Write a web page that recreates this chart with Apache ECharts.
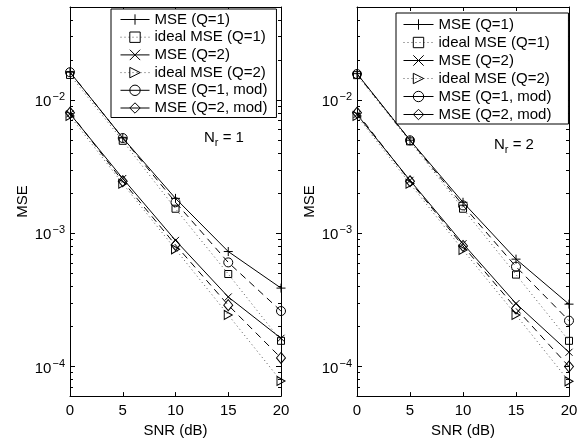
<!DOCTYPE html>
<html><head><meta charset="utf-8">
<script src="https://cdn.jsdelivr.net/npm/echarts@6/dist/echarts.min.js"></script>
<style>html,body{margin:0;padding:0;background:#fff}#c{width:587px;height:443px}</style>
</head><body><div id="c"></div>
<script>
// ---- data ----
const snr = [0, 5, 10, 15, 20];
const seriesNames = ['MSE (Q=1)', 'ideal MSE (Q=1)', 'MSE (Q=2)', 'ideal MSE (Q=2)', 'MSE (Q=1, mod)', 'MSE (Q=2, mod)'];
// N_r = 1
const mseQ1_nr1      = [0.0162, 0.0052, 0.00183, 0.00073, 0.000388];
const idealQ1_nr1    = [0.01545, 0.00495, 0.00153, 0.000495, 0.000156];
const mseQ2_nr1      = [0.0079, 0.00258, 0.000885, 0.000333, 0.000163];
const idealQ2_nr1    = [0.0076, 0.00236, 0.000759, 0.000244, 0.000078];
const mseQ1mod_nr1   = [0.0162, 0.00519, 0.00171, 0.000605, 0.000261];
const mseQ2mod_nr1   = [0.00804, 0.00246, 0.000818, 0.000289, 0.000116];
// N_r = 2
const mseQ1_nr2      = [0.0158, 0.0050, 0.00171, 0.00064, 0.000294];
const idealQ1_nr2    = [0.0154, 0.0049, 0.00153, 0.00049, 0.000156];
const mseQ2_nr2      = [0.0078, 0.0025, 0.000836, 0.000297, 0.000128];
const idealQ2_nr2    = [0.0076, 0.00236, 0.00075, 0.000244, 0.0000775];
const mseQ1mod_nr2   = [0.0157, 0.00499, 0.00162, 0.000562, 0.000221];
const mseQ2mod_nr2   = [0.00804, 0.00246, 0.000804, 0.000273, 0.0001];
// axis ticks
const xTicks = [0, 5, 10, 15, 20];
const yMajor = [1e-4, 1e-3, 1e-2];
const yMinor = [6e-5, 7e-5, 8e-5, 9e-5, 2e-4, 3e-4, 4e-4, 5e-4, 6e-4, 7e-4, 8e-4, 9e-4,
                2e-3, 3e-3, 4e-3, 5e-3, 6e-3, 7e-3, 8e-3, 9e-3, 2e-2, 3e-2, 4e-2, 5e-2];
const yMin = 6e-5, yMax = 5e-2;

// ---- styles ----
const FONT = 'Liberation Sans, Arial, Helvetica, sans-serif';
const PLUS = 'path://M5,0L5,10M0,5L10,5';
const CROSS = 'path://M0,0L10,10M0,10L10,0';
const TRI = 'path://M0,0L10,5L0,10Z';
const styles = [
  {symbol: PLUS, size: 9, type: 'solid', color: '#000', legendType: 'solid'},
  {symbol: 'rect', size: 7, type: [1, 3], color: '#555', legendType: [1, 3]},
  {symbol: CROSS, size: 7, type: 'solid', color: '#000', legendType: 'solid'},
  {symbol: TRI, size: [8, 9], type: [1, 3], color: '#555', legendType: [1, 3]},
  {symbol: 'circle', size: 9, type: [7, 5], color: '#000', legendType: 'solid'},
  {symbol: 'diamond', size: [9, 11], type: [7, 5], color: '#000', legendType: 'solid'}
];
const panels = [
  [mseQ1_nr1, idealQ1_nr1, mseQ2_nr1, idealQ2_nr1, mseQ1mod_nr1, mseQ2mod_nr1],
  [mseQ1_nr2, idealQ1_nr2, mseQ2_nr2, idealQ2_nr2, mseQ1mod_nr2, mseQ2mod_nr2]
];

function expLabel(v) {
  const e = Math.round(Math.log10(v));
  return '{b|10}{s|' + (e < 0 ? '\u2212' : '') + Math.abs(e) + '}';
}

const grids = [
  {left: 70, right: 306, top: 7, bottom: 43},
  {left: 357, right: 18, top: 7, bottom: 43}
];
const xAxes = [], yAxes = [], series = [];
const axisLine = {show: true, lineStyle: {color: '#000', width: 1}};
grids.forEach((g, gi) => {
  xAxes.push({
    gridIndex: gi, type: 'value', min: 0, max: 20, interval: 5, position: 'bottom',
    axisLine, splitLine: {show: false},
    axisTick: {inside: true, length: 4, lineStyle: {color: '#000'}},
    axisLabel: {fontSize: 15, color: '#000', fontFamily: FONT, margin: 7},
    name: 'SNR (dB)', nameLocation: 'middle', nameGap: 26,
    nameTextStyle: {fontSize: 15, color: '#000', fontFamily: FONT}
  });
  xAxes.push({
    gridIndex: gi, type: 'value', min: 0, max: 20, interval: 5, position: 'top',
    axisLine, splitLine: {show: false},
    axisTick: {inside: true, length: 4, lineStyle: {color: '#000'}},
    axisLabel: {show: false}
  });
  const base = {gridIndex: gi, type: 'log', logBase: 10, min: yMin, max: yMax, splitLine: {show: false}, axisLine};
  yAxes.push(Object.assign({}, base, {
    position: 'left',
    axisTick: {inside: true, length: 5, customValues: yMajor, lineStyle: {color: '#000'}},
    axisLabel: {customValues: yMajor, formatter: expLabel, margin: 5, color: '#000',
      rich: {b: {fontSize: 15, fontFamily: FONT, color: '#000', padding: [4, 0, 0, 0]},
             s: {fontSize: 11, fontFamily: FONT, color: '#000', padding: [0, 0, 6, 1]}}},
    name: 'MSE', nameLocation: 'middle', nameGap: 40, nameRotate: 90,
    nameTextStyle: {fontSize: 15, color: '#000', fontFamily: FONT}
  }));
  yAxes.push(Object.assign({}, base, {
    position: 'left', axisLine: {show: false},
    axisTick: {inside: true, length: 3, customValues: yMinor, lineStyle: {color: '#000'}},
    axisLabel: {show: false}
  }));
  yAxes.push(Object.assign({}, base, {
    position: 'right',
    axisTick: {inside: true, length: 5, customValues: yMajor, lineStyle: {color: '#000'}},
    axisLabel: {show: false}
  }));
  yAxes.push(Object.assign({}, base, {
    position: 'right', axisLine: {show: false},
    axisTick: {inside: true, length: 3, customValues: yMinor, lineStyle: {color: '#000'}},
    axisLabel: {show: false}
  }));
  panels[gi].forEach((vals, si) => {
    const st = styles[si];
    series.push({
      type: 'line', name: seriesNames[si],
      xAxisIndex: gi * 2, yAxisIndex: gi * 4,
      data: snr.map((x, i) => [x, vals[i]]),
      symbol: st.symbol, symbolSize: st.size, showAllSymbol: true,
      lineStyle: {color: st.color, width: 1, type: st.type},
      itemStyle: {color: 'rgba(0,0,0,0)', borderColor: '#000', borderWidth: 1},
      emphasis: {disabled: true}, animation: false, z: 2 + si
    });
  });
});

const legendData = seriesNames.map((n, i) => ({name: n, lineStyle: {type: styles[i].legendType, width: 1}}));
const legendCommon = {
  orient: 'vertical', data: legendData, itemHeight: 13,
  backgroundColor: '#fff', borderColor: '#000', borderWidth: 1,
  textStyle: {fontSize: 15, fontFamily: FONT, color: '#000', lineHeight: 15},
  lineStyle: {width: 1}, itemStyle: {borderWidth: 1},
  selectedMode: false
};
const legends = [
  Object.assign({}, legendCommon, {left: 111, top: 9, itemWidth: 29, itemGap: 2.7, padding: [3, 9, 2, 9]}),
  Object.assign({}, legendCommon, {left: 396, top: 13, itemWidth: 30, itemGap: 3, padding: [4, 17, 2, 7]})
];

function nrText(n, x, y) {
  return {
    type: 'text', left: x, top: y, z: 100,
    style: {
      text: '{a|N}{b|r}{a| = ' + n + '}',
      rich: {a: {fontSize: 15, fontFamily: FONT, fill: '#000', color: '#000'},
             b: {fontSize: 11, fontFamily: FONT, fill: '#000', color: '#000', padding: [10, 0, 0, 0]}}
    }
  };
}

const chart = echarts.init(document.getElementById('c'), null, {renderer: 'canvas'});
chart.setOption({
  animation: false,
  backgroundColor: '#fff',
  grid: grids,
  xAxis: xAxes,
  yAxis: yAxes,
  legend: legends,
  series: series,
  graphic: [nrText(1, 204, 130), nrText(2, 494, 137)]
});
</script></body></html>
